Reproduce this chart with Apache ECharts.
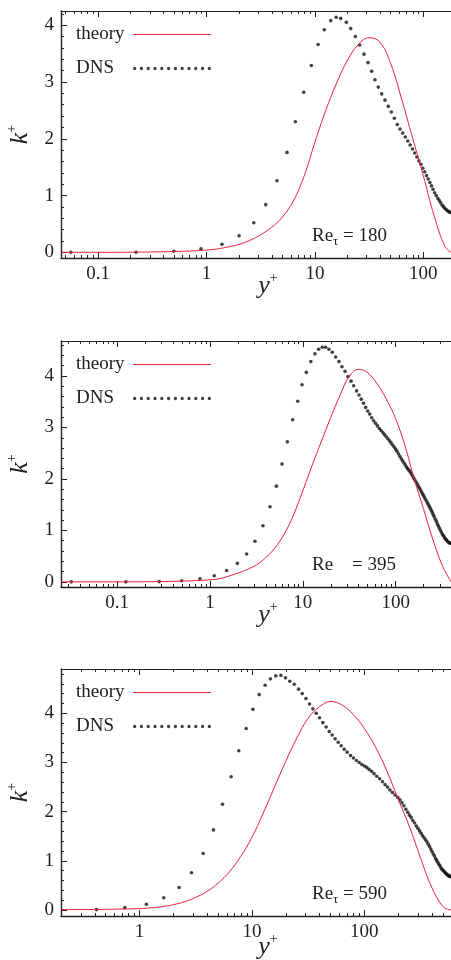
<!DOCTYPE html>
<html>
<head>
<meta charset="utf-8">
<script src="https://cdn.jsdelivr.net/npm/echarts@6/dist/echarts.min.js"></script>
<style>
  html, body { margin: 0; padding: 0; background: #fff; }
  #chart { width: 451px; height: 960px; }
</style>
</head>
<body>
<div id="chart"></div>
<script>
// k+ profiles, [y+, k+]
const theory180 = [[0.0455,0],[0.1,0],[0.251,0.004],[0.631,0.02],[1,0.04],[1.259,0.06],[1.585,0.095],[1.995,0.14],[2.512,0.21],[3.162,0.31],[3.981,0.44],[5.012,0.62],[6.31,0.9],[7.943,1.34],[10,1.94],[12.59,2.5],[15.85,2.98],[19.95,3.38],[25.12,3.66],[31.62,3.78],[39.81,3.7],[50.12,3.32],[63.1,2.7],[79.43,2.02],[100,1.35],[125.9,0.64],[158.5,0.1],[180,0]];
const dns180 = [[0.056,0],[0.224,0],[0.5,0.02],[0.89,0.06],[1.39,0.14],[2,0.29],[2.73,0.52],[3.52,0.84],[4.47,1.26],[5.53,1.76],[6.6,2.3],[7.88,2.82],[9.27,3.29],[10.7,3.66],[12.2,3.92],[14,4.08],[15.7,4.14],[17.3,4.12],[19.5,4.05],[21.4,3.94],[23.6,3.8],[25.9,3.65],[28.4,3.49],[30.9,3.34],[33.4,3.19],[35.8,3.04],[38.4,2.91],[41.3,2.79],[44.3,2.68],[47.5,2.57],[50.7,2.47],[54,2.36],[57.5,2.25],[61,2.17],[64.6,2.1],[68.2,2.03],[71.9,1.96],[75.6,1.89],[79.4,1.82],[83.2,1.75],[87.1,1.68],[91,1.61],[95,1.55],[99,1.48],[103,1.42],[107,1.35],[111,1.29],[115,1.23],[119,1.17],[123,1.11],[127,1.05],[131.5,1],[136,0.95],[140.5,0.91],[145,0.87],[149.5,0.83],[154,0.8],[158.5,0.77],[163,0.75],[167.5,0.73],[172,0.715],[176,0.705],[180,0.7]];

const theory395 = [[0.0248,0],[0.1,0],[0.251,0.004],[0.631,0.02],[1,0.04],[1.259,0.06],[1.585,0.11],[1.995,0.17],[2.512,0.24],[3.162,0.33],[3.981,0.47],[5.012,0.66],[6.31,0.93],[7.943,1.3],[10,1.77],[12.59,2.26],[15.85,2.73],[19.95,3.19],[25.12,3.62],[31.62,3.99],[39.81,4.13],[50.12,4.06],[63.1,3.85],[79.43,3.55],[100,3.17],[125.9,2.65],[158.5,2],[199.5,1.42],[251.2,0.83],[316.2,0.33],[395,0]];
const dns395 = [[0.032,0],[0.124,0],[0.284,0.005],[0.495,0.02],[0.78,0.06],[1.11,0.12],[1.51,0.22],[1.97,0.36],[2.48,0.54],[3.05,0.79],[3.72,1.09],[4.43,1.46],[5.19,1.86],[5.97,2.29],[6.81,2.72],[7.78,3.15],[8.81,3.51],[9.8,3.83],[10.9,4.07],[12.2,4.28],[13.5,4.43],[14.8,4.52],[16.2,4.56],[17.6,4.56],[19.1,4.52],[20.8,4.46],[22.6,4.37],[24.5,4.28],[26.4,4.18],[28.5,4.09],[30.7,3.99],[33.1,3.9],[35.3,3.81],[38,3.71],[40.3,3.63],[42.6,3.55],[45,3.47],[47.5,3.39],[50,3.32],[52.6,3.26],[55.3,3.19],[58,3.13],[60.8,3.08],[63.7,3.03],[66.7,2.98],[69.7,2.94],[72.8,2.9],[76,2.86],[79.2,2.82],[82.5,2.78],[85.9,2.74],[89.3,2.7],[92.8,2.66],[96.3,2.62],[99.9,2.58],[103.5,2.54],[107.2,2.49],[111,2.44],[115,2.39],[119,2.35],[123,2.31],[127,2.27],[131,2.23],[135,2.2],[139,2.17],[143,2.14],[147.5,2.1],[152,2.06],[156.5,2.02],[161,1.98],[166,1.94],[171,1.9],[176,1.86],[181,1.82],[186,1.78],[191,1.74],[196,1.7],[201,1.67],[206,1.63],[212,1.59],[218,1.55],[224,1.51],[230,1.47],[236,1.43],[242,1.39],[248,1.35],[254,1.31],[260,1.27],[267,1.22],[274,1.18],[281,1.13],[288,1.09],[295,1.05],[302,1.01],[310,0.97],[318,0.93],[326,0.9],[334,0.87],[342,0.84],[350,0.82],[358,0.8],[366,0.78],[374,0.765],[382,0.755],[390,0.75],[395,0.75]];

const theory590 = [[0.2,0.01],[0.398,0.012],[0.631,0.02],[1,0.03],[1.259,0.045],[1.585,0.07],[1.995,0.11],[2.512,0.17],[3.162,0.26],[3.981,0.38],[5.012,0.55],[6.31,0.78],[7.943,1.09],[10,1.48],[12.59,1.97],[15.85,2.5],[19.95,3.02],[25.12,3.5],[31.62,3.9],[39.81,4.13],[50.12,4.24],[63.1,4.17],[79.43,3.98],[100,3.69],[125.9,3.31],[158.5,2.83],[199.5,2.26],[251.2,1.7],[316.2,1.06],[398.1,0.46],[501.2,0.07],[590,0]];
const dns590 = [[0.414,0.01],[0.74,0.05],[1.15,0.12],[1.64,0.25],[2.25,0.46],[2.9,0.76],[3.68,1.15],[4.55,1.63],[5.47,2.15],[6.53,2.71],[7.64,3.24],[8.88,3.69],[10.2,4.08],[11.6,4.38],[13.1,4.57],[14.6,4.7],[16.3,4.76],[18.1,4.77],[19.9,4.72],[21.7,4.65],[23.8,4.59],[26,4.49],[28,4.4],[30.2,4.3],[32.5,4.19],[34.8,4.09],[37.3,4],[39.9,3.91],[42.7,3.81],[45.7,3.72],[48.7,3.63],[51.7,3.56],[55,3.48],[58.5,3.41],[62.2,3.34],[66.1,3.27],[70.3,3.21],[75.3,3.14],[80,3.09],[85,3.04],[90,3],[95,2.96],[100,2.93],[105,2.9],[110,2.86],[116,2.82],[122,2.77],[129,2.72],[137,2.67],[145,2.61],[153,2.55],[161,2.5],[169,2.44],[178,2.39],[188,2.34],[198,2.29],[207,2.24],[216,2.18],[225,2.12],[234,2.05],[243,1.99],[252,1.93],[261,1.88],[270,1.82],[280,1.77],[290,1.71],[300,1.66],[310,1.61],[320,1.56],[330,1.51],[340,1.47],[350,1.43],[360,1.39],[370,1.34],[380,1.29],[390,1.24],[400,1.19],[410,1.14],[420,1.1],[430,1.05],[440,1.01],[450,0.97],[460,0.93],[470,0.9],[480,0.86],[490,0.83],[500,0.81],[510,0.79],[520,0.77],[530,0.75],[540,0.73],[550,0.715],[560,0.7],[570,0.69],[580,0.685],[590,0.68]];

const xTicks = [0.1, 1, 10, 100];
const yTicks = [0, 1, 2, 3, 4];
const reLabels = ['{r|Re}{s|τ}{r| = 180}', '{r|Re}{r|    = 395}', '{r|Re}{s|τ}{r| = 590}'];

const FONT = '"Liberation Serif", "DejaVu Serif", serif';
const INK = '#222';
const RED = '#e8203e';

const panels = [
    { theory: theory180, dns: dns180, label: reLabels[0], xMin: 0.0455, xMax: 180, yMin: -0.1, yMax: 4.25, top: 11, height: 247, nameGap: 13 },
    { theory: theory395, dns: dns395, label: reLabels[1], xMin: 0.0248, xMax: 395, yMin: -0.1, yMax: 4.68, top: 341, height: 246, nameGap: 13 },
    { theory: theory590, dns: dns590, label: reLabels[2], xMin: 0.2, xMax: 590, yMin: -0.12, yMax: 4.9, top: 669, height: 247, nameGap: 16 },
];

// log minor ticks 2..9 in every decade
const minorX = (lo, hi) => {
    const out = [];
    [0.01, 0.1, 1, 10, 100].forEach((d) => {
        for (let m = 2; m <= 9; m++) {
            const v = +(m * d).toPrecision(3);
            if (v > lo && v < hi) out.push(v);
        }
    });
    return out;
};
const minorY = [];
for (let i = 0; i < 25; i++) if (i % 5) minorY.push(+(i * 0.2).toFixed(1));

let dots = '';
for (let i = 0; i < 12; i++) {
    const cx = 1.7 + i * (76.6 / 11);
    dots += `M${(cx - 1.7).toFixed(2)},1.7a1.7,1.7 0 1,0 3.4,0a1.7,1.7 0 1,0 -3.4,0Z`;
}
const DOT_ICON = 'path://' + dots;

const richName = (big) => ({
    i: { fontFamily: FONT, fontStyle: 'italic', fontSize: big, lineHeight: 30, color: INK },
    s: { fontFamily: FONT, fontSize: 14, lineHeight: 14, verticalAlign: 'top', color: INK },
});

const grid = [], xAxis = [], yAxis = [], series = [], legend = [], title = [];

panels.forEach((p, i) => {
    grid.push({ left: 61, width: 390, top: p.top, height: p.height, outerBoundsMode: 'none' });
    const majors = xTicks.filter((v) => v > p.xMin && v < p.xMax);
    const minors = minorX(p.xMin, p.xMax);
    const base = { type: 'log', logBase: 10, gridIndex: i, min: p.xMin, max: p.xMax, splitLine: { show: false } };

    // bottom axis with labels
    xAxis.push({
        ...base, position: 'bottom',
        axisLine: { onZero: false, lineStyle: { color: INK, width: 1.4 } },
        axisTick: { inside: true, length: 6, customValues: majors, lineStyle: { color: INK } },
        axisLabel: { customValues: majors, formatter: (v) => String(v), fontFamily: FONT, fontSize: 19, color: INK, margin: 7 },
        name: '{i|y}{s|+}', nameLocation: 'middle', nameGap: p.nameGap, nameMoveOverlap: false,
        nameTextStyle: { rich: richName(26), padding: [0, 0, 0, 24] },
    });
    xAxis.push({
        ...base, position: 'bottom',
        axisLine: { show: false, onZero: false },
        axisTick: { inside: true, length: 3, customValues: minors, lineStyle: { color: INK } },
        axisLabel: { show: false },
    });
    // top mirror
    xAxis.push({
        ...base, position: 'top',
        axisLine: { onZero: false, lineStyle: { color: INK, width: 1 } },
        axisTick: { inside: true, length: 6, customValues: majors, lineStyle: { color: INK } },
        axisLabel: { show: false },
    });
    xAxis.push({
        ...base, position: 'top',
        axisLine: { show: false, onZero: false },
        axisTick: { inside: true, length: 3, customValues: minors, lineStyle: { color: INK } },
        axisLabel: { show: false },
    });

    const ybase = { type: 'value', gridIndex: i, min: p.yMin, max: p.yMax, position: 'left', splitLine: { show: false } };
    yAxis.push({
        ...ybase,
        axisLine: { show: true, onZero: false, lineStyle: { color: INK, width: 1.4 } },
        axisTick: { inside: true, length: 6, customValues: yTicks, lineStyle: { color: INK } },
        axisLabel: { customValues: yTicks, fontFamily: FONT, fontSize: 19, color: INK, margin: 7 },
        name: '{i|k}{s|+}', nameLocation: 'middle', nameGap: 21, nameRotate: 90,
        nameTextStyle: { rich: richName(26) },
    });
    yAxis.push({
        ...ybase,
        axisLine: { show: false, onZero: false },
        axisTick: { inside: true, length: 3, customValues: minorY.filter((v) => v < p.yMax), lineStyle: { color: INK } },
        axisLabel: { show: false },
    });

    series.push({
        name: 'theory', type: 'line', xAxisIndex: 4 * i, yAxisIndex: 2 * i,
        data: p.theory, symbol: 'none', smooth: 0.4,
        lineStyle: { color: RED, width: 1 }, itemStyle: { color: RED },
    });
    series.push({
        name: 'DNS', type: 'scatter', xAxisIndex: 4 * i, yAxisIndex: 2 * i,
        data: p.dns, symbolSize: 3.6, itemStyle: { color: '#111' },
    });

    legend.push({
        left: 76, top: p.top + 14, orient: 'vertical', align: 'right', padding: 0,
        itemWidth: 78, itemHeight: 5, itemGap: 15, selectedMode: false,
        data: [
            { name: 'theory', itemStyle: { opacity: 0 }, lineStyle: { color: RED, width: 1 } },
            { name: 'DNS', icon: DOT_ICON },
        ],
        formatter: (name) => `{a|${name}}`,
        textStyle: { rich: { a: { width: 52, align: 'left', fontFamily: FONT, fontSize: 19, color: INK } } },
    });

    title.push({
        text: p.label, left: 312, top: p.top + p.height - 34, padding: 0,
        textStyle: {
            fontWeight: 'normal',
            rich: {
                r: { fontFamily: FONT, fontSize: 19, lineHeight: 24, color: INK, fontWeight: 'normal' },
                s: { fontFamily: FONT, fontSize: 13, lineHeight: 13, verticalAlign: 'bottom', color: INK, fontWeight: 'normal' },
            },
        },
    });
});

const chart = echarts.init(document.getElementById('chart'), null, { renderer: 'canvas' });
chart.setOption({
    animation: false,
    backgroundColor: '#fff',
    grid, xAxis, yAxis, series, legend, title,
});
</script>
</body>
</html>
